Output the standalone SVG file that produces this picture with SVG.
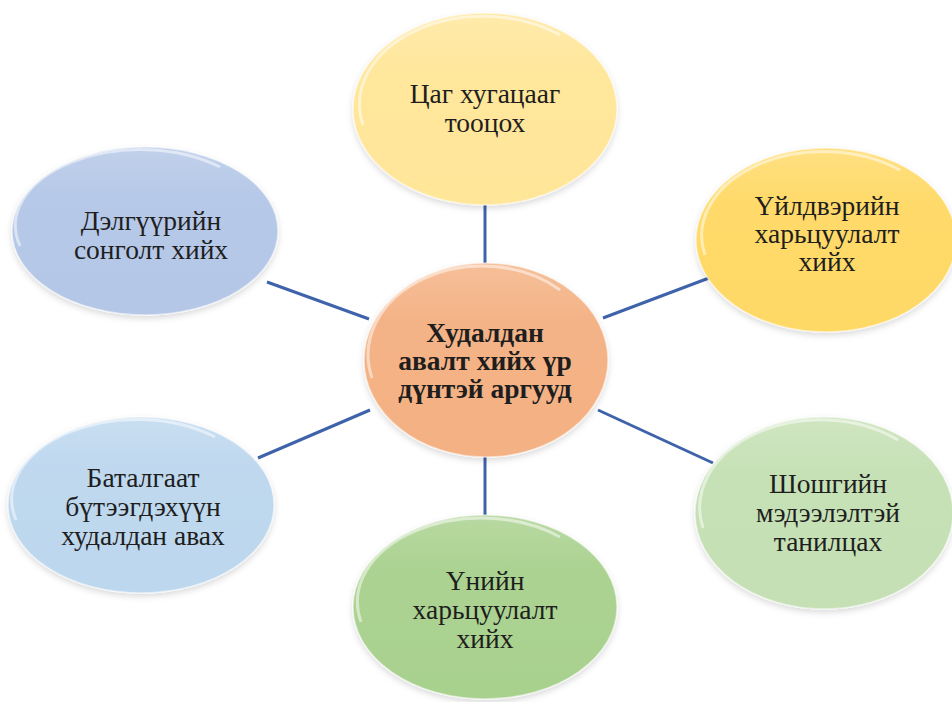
<svg xmlns="http://www.w3.org/2000/svg" width="952" height="702" viewBox="0 0 952 702">
<style>
.lbl{font-family:"Liberation Serif","Times New Roman",serif;font-size:27.5px;fill:#1e1e1e;text-anchor:middle}
.bold{font-weight:bold}
.con line{stroke:#3F63AA;stroke-width:3}
.rim{fill:none;stroke:#fff;stroke-opacity:0.5;stroke-width:3}
.edge{stroke:#ffffff;stroke-opacity:0.5;stroke-width:1.5}
</style>
<defs>
<filter id="sh" x="-10%" y="-10%" width="120%" height="125%">
<feDropShadow dx="0" dy="3" stdDeviation="3" flood-color="#000" flood-opacity="0.15"/>
</filter>
<linearGradient id="gloss" x1="0" y1="0" x2="0" y2="1">
<stop offset="0" stop-color="#fff" stop-opacity="0.18"/>
<stop offset="0.3" stop-color="#fff" stop-opacity="0.03"/>
<stop offset="1" stop-color="#fff" stop-opacity="0"/>
</linearGradient>
</defs>
<rect width="952" height="702" fill="#fff"/>
<g id="connectors" class="con">
<line x1="485" y1="204" x2="485" y2="265"/>
<line x1="485" y1="456" x2="485" y2="516"/>
<line x1="267" y1="282" x2="369" y2="319"/>
<line x1="603" y1="318" x2="709" y2="278"/>
<line x1="258" y1="458" x2="370" y2="410"/>
<line x1="598" y1="410" x2="713" y2="463"/>
</g>
<g id="n-top">
<ellipse cx="485" cy="109" rx="132" ry="96" fill="#FFE699" class="edge" filter="url(#sh)"/>
<ellipse cx="485" cy="109" rx="132" ry="96" fill="url(#gloss)"/>
<path class="rim" d="M363,125 A124,88 0 0 1 560,35"/>
<text class="lbl" x="485" y="103">Цаг хугацааг</text>
<text class="lbl" x="485" y="132">тооцох</text>
</g>
<g id="n-topright">
<ellipse cx="826" cy="240" rx="130" ry="92" fill="#FFD966" class="edge" filter="url(#sh)"/>
<ellipse cx="826" cy="240" rx="130" ry="92" fill="url(#gloss)"/>
<path class="rim" d="M705,255 A122,84 0 0 1 900,170"/>
<text class="lbl" x="827" y="215">Үйлдвэрийн</text>
<text class="lbl" x="827" y="243">харьцуулалт</text>
<text class="lbl" x="827" y="271">хийх</text>
</g>
<g id="n-topleft">
<ellipse cx="145" cy="231" rx="133" ry="84" fill="#B4C7E7" class="edge" filter="url(#sh)"/>
<ellipse cx="145" cy="231" rx="133" ry="84" fill="url(#gloss)"/>
<path class="rim" d="M20,246 A125,76 0 0 1 220,167"/>
<text class="lbl" x="151" y="230">Дэлгүүрийн</text>
<text class="lbl" x="151" y="259">сонголт хийх</text>
</g>
<g id="n-center">
<ellipse cx="486" cy="360" rx="122" ry="97" fill="#F4B183" class="edge" filter="url(#sh)"/>
<ellipse cx="486" cy="360" rx="122" ry="97" fill="url(#gloss)"/>
<path class="rim" d="M372,378 A114,89 0 0 1 560,290"/>
<text class="lbl bold" x="485" y="342">Худалдан</text>
<text class="lbl bold" x="485" y="370">авалт хийх үр</text>
<text class="lbl bold" x="485" y="398">дүнтэй аргууд</text>
</g>
<g id="n-bottomleft">
<ellipse cx="141" cy="505" rx="133" ry="88" fill="#BDD7EE" class="edge" filter="url(#sh)"/>
<ellipse cx="141" cy="505" rx="133" ry="88" fill="url(#gloss)"/>
<path class="rim" d="M16,520 A125,80 0 0 1 215,437"/>
<text class="lbl" x="143" y="487">Баталгаат</text>
<text class="lbl" x="143" y="516">бүтээгдэхүүн</text>
<text class="lbl" x="143" y="545">худалдан авах</text>
</g>
<g id="n-bottom">
<ellipse cx="485" cy="607" rx="132" ry="92" fill="#A9D18E" class="edge" filter="url(#sh)"/>
<ellipse cx="485" cy="607" rx="132" ry="92" fill="url(#gloss)"/>
<path class="rim" d="M361,622 A124,84 0 0 1 560,537"/>
<text class="lbl" x="485" y="590">Үнийн</text>
<text class="lbl" x="485" y="619">харьцуулалт</text>
<text class="lbl" x="485" y="648">хийх</text>
</g>
<g id="n-bottomright">
<ellipse cx="824" cy="513" rx="129" ry="96" fill="#C5E0B4" class="edge" filter="url(#sh)"/>
<ellipse cx="824" cy="513" rx="129" ry="96" fill="url(#gloss)"/>
<path class="rim" d="M703,528 A121,88 0 0 1 898,440"/>
<text class="lbl" x="828" y="493">Шошгийн</text>
<text class="lbl" x="828" y="522">мэдээлэлтэй</text>
<text class="lbl" x="828" y="551">танилцах</text>
</g>
</svg>
